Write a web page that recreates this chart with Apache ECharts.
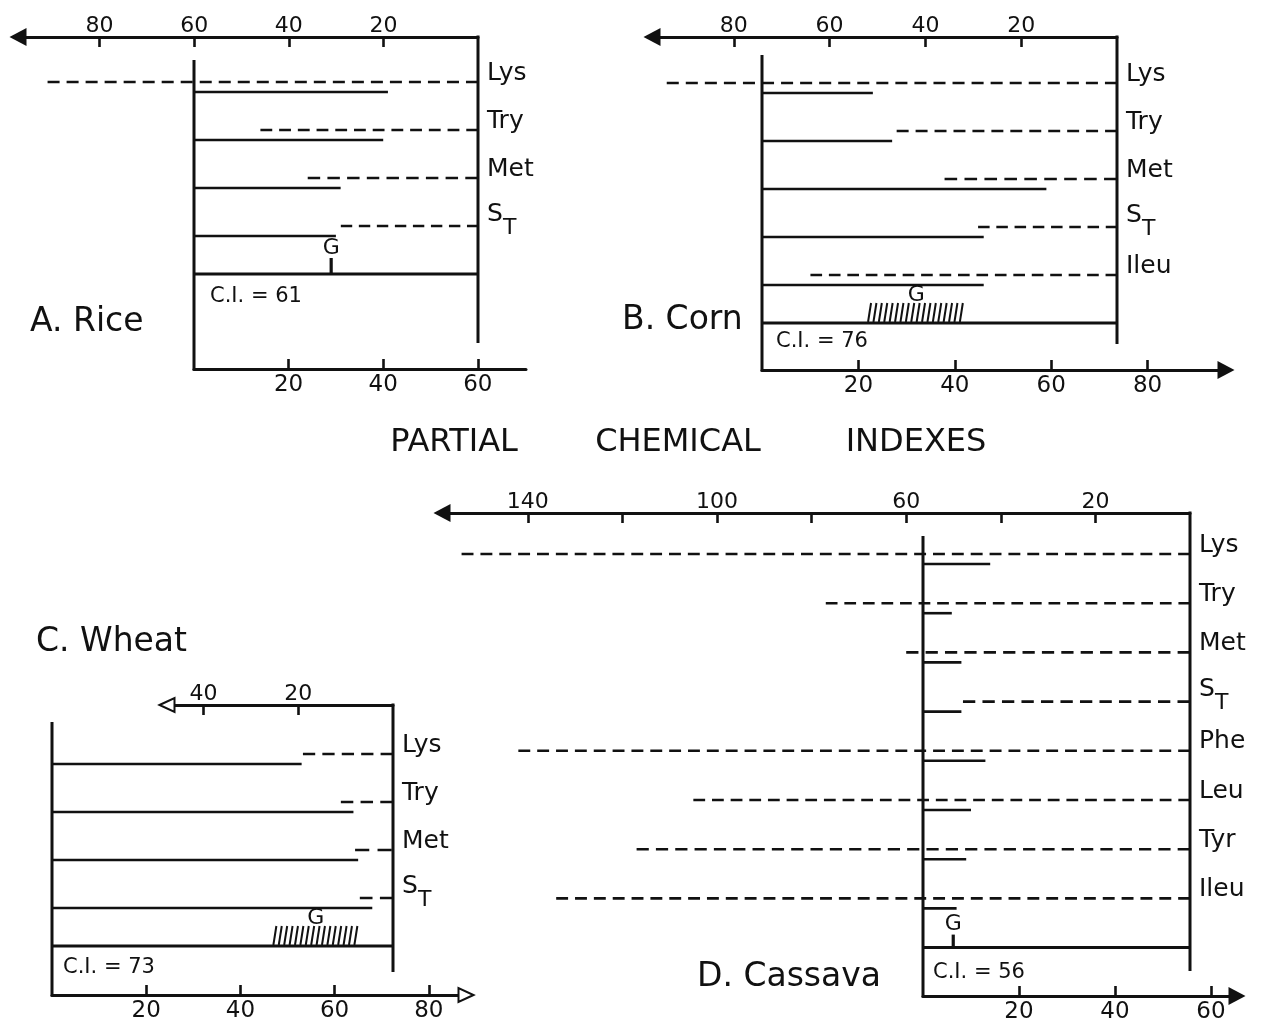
<!DOCTYPE html>
<html><head><meta charset="utf-8">
<script src="https://cdn.jsdelivr.net/npm/echarts@6/dist/echarts.min.js"></script>
<style>html,body{margin:0;padding:0;background:#fff}#c{width:1265px;height:1026px}</style>
</head><body><div id="c"></div>
<script>
// ---------------- data ----------------
// dashed = value on the upper axis (read leftwards from the right frame)
// solid  = value on the lower axis (read rightwards from the left frame)
const riceAcids   = ['Lys', 'Try', 'Met', 'ST'];
const riceTop     = [91, 46, 36, 29];
const riceBottom  = [41, 40, 31, 30];
const riceG       = [29, 29];
const riceCI      = 61;

const cornAcids   = ['Lys', 'Try', 'Met', 'ST', 'Ileu'];
const cornTop     = [94, 46, 36, 29, 64];
const cornBottom  = [23, 27, 59, 46, 46];
const cornG       = [22, 42];
const cornCI      = 76;

const wheatAcids  = ['Lys', 'Try', 'Met', 'ST'];
const wheatTop    = [19, 11, 8, 7];
const wheatBottom = [53, 64, 65, 68];
const wheatG      = [47, 65];
const wheatCI     = 73;

const cassavaAcids  = ['Lys', 'Try', 'Met', 'ST', 'Phe', 'Leu', 'Tyr', 'Ileu'];
const cassavaTop    = [154, 77, 60, 48, 142, 105, 117, 134];
const cassavaBottom = [14, 6, 8, 8, 13, 10, 9, 7];
const cassavaG      = [6.3, 6.3];
const cassavaCI     = 56;

const riceTopTicks      = [20, 40, 60, 80];
const riceBottomTicks   = [20, 40, 60];
const cornTopTicks      = [20, 40, 60, 80];
const cornBottomTicks   = [20, 40, 60, 80];
const wheatTopTicks     = [20, 40];
const wheatBottomTicks  = [20, 40, 60, 80];
const cassavaTopTicks   = [20, 40, 60, 80, 100, 120, 140];
const cassavaTopLabels  = [20, 60, 100, 140];
const cassavaBottomTicks = [20, 40, 60];

const panelNames = ['A. Rice', 'B. Corn', 'C. Wheat', 'D. Cassava'];
const titleWords = ['PARTIAL', 'CHEMICAL', 'INDEXES'];

// ---------------- layout / style ----------------
const INK = '#111111';
const FONT = 'DejaVu Sans';
const DASH = 12, GAP = 7;

const layouts = [
  {leftV:194, rightV:478, sTop:4.73, sBot:4.73, topEnd:18, botEnd:526, topArrow:'triangle', botArrow:'none',
   topY:37, botY:369, row0:82, rowH:48, vTop:60, vBot:343, ciDx:16, ciBase:305, arrowSize:[18,17],
   nameX:30, nameBase:334},
  {leftV:762, rightV:1117, sTop:4.79, sBot:4.82, topEnd:652, botEnd:1226, topArrow:'triangle', botArrow:'triangle',
   topY:37, botY:370, row0:83, rowH:48, vTop:55, vBot:344, ciDx:14, ciBase:350, arrowSize:[18,17],
   nameX:622, nameBase:332},
  {leftV:52, rightV:393, sTop:4.74, sBot:4.71, topEnd:167, botEnd:466, topArrow:'emptyTriangle', botArrow:'emptyTriangle',
   topY:705, botY:995, row0:754, rowH:48, vTop:722, vBot:972, ciDx:11, ciBase:976, arrowSize:[14,15],
   nameX:36, nameBase:654},
  {leftV:923, rightV:1190, sTop:4.73, sBot:4.8, topEnd:442, botEnd:1237, topArrow:'triangle', botArrow:'triangle',
   topY:513, botY:996, row0:554, rowH:49.2, vTop:536, vBot:971, ciDx:10, ciBase:981, arrowSize:[18,17],
   nameX:697, nameBase:989}
];

const panels = [
  {acids:riceAcids, top:riceTop, bottom:riceBottom, g:riceG, ci:riceCI, topTicks:riceTopTicks, topLabels:riceTopTicks, botTicks:riceBottomTicks},
  {acids:cornAcids, top:cornTop, bottom:cornBottom, g:cornG, ci:cornCI, topTicks:cornTopTicks, topLabels:cornTopTicks, botTicks:cornBottomTicks},
  {acids:wheatAcids, top:wheatTop, bottom:wheatBottom, g:wheatG, ci:wheatCI, topTicks:wheatTopTicks, topLabels:wheatTopTicks, botTicks:wheatBottomTicks},
  {acids:cassavaAcids, top:cassavaTop, bottom:cassavaBottom, g:cassavaG, ci:cassavaCI, topTicks:cassavaTopTicks, topLabels:cassavaTopLabels, botTicks:cassavaBottomTicks}
];

function txt(text, x, y, size, align) {
  return {type:'text', x:x, y:y, silent:true,
    style:{text:text, fill:INK, font:size + 'px "' + FONT + '"', align:align || 'left', textAlign:align || 'left',
           verticalAlign:'middle', textVerticalAlign:'middle'}};
}
// dash pattern stretched so that both ends of the line are full dashes
function fitDash(len) {
  const n = Math.max(1, Math.round((len + GAP) / (DASH + GAP)));
  const s = (len + GAP) / (n * (DASH + GAP));
  return [DASH * s, GAP * s];
}

const grid = [], xAxis = [], yAxis = [], series = [], graphic = [];

panels.forEach(function (p, k) {
  const L = layouts[k];
  const nRows = p.acids.length;
  const topMax = (L.rightV - L.topEnd) / L.sTop;
  const botMax = (L.botEnd - L.leftV) / L.sBot;
  const panelW = (L.rightV - L.leftV) / L.sBot;
  const yMin = (L.topY - L.row0) / L.rowH;
  const yMax = (L.botY - L.row0) / L.rowH;
  const gT = grid.length, gB = gT + 1;

  grid.push({left:L.topEnd, top:L.topY, width:L.rightV - L.topEnd, height:L.botY - L.topY, containLabel:false, outerBoundsMode:'none'});
  grid.push({left:L.leftV, top:L.topY, width:L.botEnd - L.leftV, height:L.botY - L.topY, containLabel:false, outerBoundsMode:'none'});

  const lbl = {show:true, color:INK, fontSize:22, fontFamily:FONT};
  xAxis.push({type:'value', gridIndex:gT, position:'top', inverse:true, min:0, max:topMax,
    axisLine:{show:true, onZero:false, symbol:[L.topArrow, 'none'], symbolSize:L.arrowSize, lineStyle:{color:INK, width:3}},
    axisTick:{show:true, inside:true, length:10, customValues:p.topTicks, lineStyle:{color:INK, width:2.6}},
    axisLabel:Object.assign({customValues:p.topLabels, margin:0}, lbl),
    splitLine:{show:false}});
  xAxis.push({type:'value', gridIndex:gB, position:'bottom', min:0, max:botMax,
    axisLine:{show:true, onZero:false, symbol:['none', L.botArrow], symbolSize:L.arrowSize, lineStyle:{color:INK, width:3}},
    axisTick:{show:true, inside:true, length:10, customValues:p.botTicks, lineStyle:{color:INK, width:2.6}},
    axisLabel:Object.assign({customValues:p.botTicks, margin:5}, lbl, {fontSize:23}),
    splitLine:{show:false}});
  yAxis.push({type:'value', gridIndex:gT, min:yMin, max:yMax, inverse:true, show:false});
  yAxis.push({type:'value', gridIndex:gB, min:yMin, max:yMax, inverse:true, show:false});

  // dashed lines + amino acid labels (upper axis)
  series.push({type:'custom', xAxisIndex:gT, yAxisIndex:gT, clip:false, silent:true,
    data:p.top.map(function (v, i) { return [v, i]; }),
    renderItem:function (params, api) {
      const r = api.value(1);
      const p0 = api.coord([0, r]), p1 = api.coord([api.value(0), r]);
      const name = p.acids[params.dataIndex];
      const lx = p0[0] + 9, ly = p0[1] - 9;
      const kids = [{type:'line', shape:{x1:p1[0], y1:p1[1], x2:p0[0], y2:p0[1]},
                     style:{stroke:INK, lineWidth:2.6, lineDash:fitDash(Math.abs(p0[0] - p1[0]))}}];
      if (name === 'ST') {
        kids.push(txt('S', lx, ly - 3, 25));
        kids.push(txt('T', lx + 16, ly + 11, 22));
      } else {
        kids.push(txt(name, lx, ly, 25));
      }
      return {type:'group', children:kids};
    }});
  // right frame line
  series.push({type:'custom', xAxisIndex:gT, yAxisIndex:gT, clip:false, silent:true,
    data:[[0, 0]],
    renderItem:function (params, api) {
      const x = api.coord([0, 0])[0];
      return {type:'line', shape:{x1:x, y1:params.coordSys.y - 1.5, x2:x, y2:L.vBot}, style:{stroke:INK, lineWidth:3}};
    }});
  // solid lines (lower axis)
  series.push({type:'custom', xAxisIndex:gB, yAxisIndex:gB, clip:false, silent:true,
    data:p.bottom.map(function (v, i) { return [v, i]; }),
    renderItem:function (params, api) {
      const r = api.value(1);
      const p0 = api.coord([0, r]), p1 = api.coord([api.value(0), r]);
      return {type:'line', shape:{x1:p0[0], y1:p0[1] + 10, x2:p1[0], y2:p1[1] + 10},
              style:{stroke:INK, lineWidth:2.6}};
    }});
  // left frame, base line, C.I.
  series.push({type:'custom', xAxisIndex:gB, yAxisIndex:gB, clip:false, silent:true,
    data:[[panelW, nRows]],
    renderItem:function (params, api) {
      const b0 = api.coord([0, api.value(1)]), b1 = api.coord([api.value(0), api.value(1)]);
      const cs = params.coordSys;
      return {type:'group', children:[
        {type:'line', shape:{x1:b0[0], y1:L.vTop, x2:b0[0], y2:cs.y + cs.height + 1.5}, style:{stroke:INK, lineWidth:3}},
        {type:'line', shape:{x1:b0[0], y1:b0[1], x2:b1[0] + 1, y2:b1[1]}, style:{stroke:INK, lineWidth:3}},
        txt('C.I. = ' + p.ci, b0[0] + L.ciDx, L.ciBase - 8, 21)
      ]};
    }});
  // G marker / hatched band
  series.push({type:'custom', xAxisIndex:gB, yAxisIndex:gB, clip:false, silent:true,
    data:[[p.g[0], p.g[1], nRows]],
    renderItem:function (params, api) {
      const a = api.coord([api.value(0), api.value(2)]), b = api.coord([api.value(1), api.value(2)]);
      const kids = [];
      if (b[0] - a[0] < 1) {
        const h = k === 0 ? 16 : 13;
        kids.push({type:'line', shape:{x1:a[0], y1:a[1], x2:a[0], y2:a[1] - h}, style:{stroke:INK, lineWidth:3.2}});
        kids.push(txt('G', a[0], a[1] - h - 10, 22, 'center'));
      } else {
        for (let x = a[0]; x <= b[0] - 3; x += 5.4) {
          kids.push({type:'line', shape:{x1:x, y1:a[1] - 1, x2:x + 3, y2:a[1] - 20}, style:{stroke:INK, lineWidth:2}});
        }
        kids.push(txt('G', (a[0] + b[0]) / 2, a[1] - 28, 22, 'center'));
      }
      return {type:'group', children:kids};
    }});

  graphic.push(txt(panelNames[k], L.nameX, L.nameBase - 12, 33));
});

const titleX = [454, 678, 916];
titleWords.forEach(function (w, i) { graphic.push(txt(w, titleX[i], 443, 32, 'center')); });

const chart = echarts.init(document.getElementById('c'), null, {renderer:'canvas'});
chart.setOption({
  backgroundColor:'#ffffff',
  animation:false,
  grid:grid, xAxis:xAxis, yAxis:yAxis, series:series,
  graphic:{elements:graphic}
});
</script>
</body></html>
